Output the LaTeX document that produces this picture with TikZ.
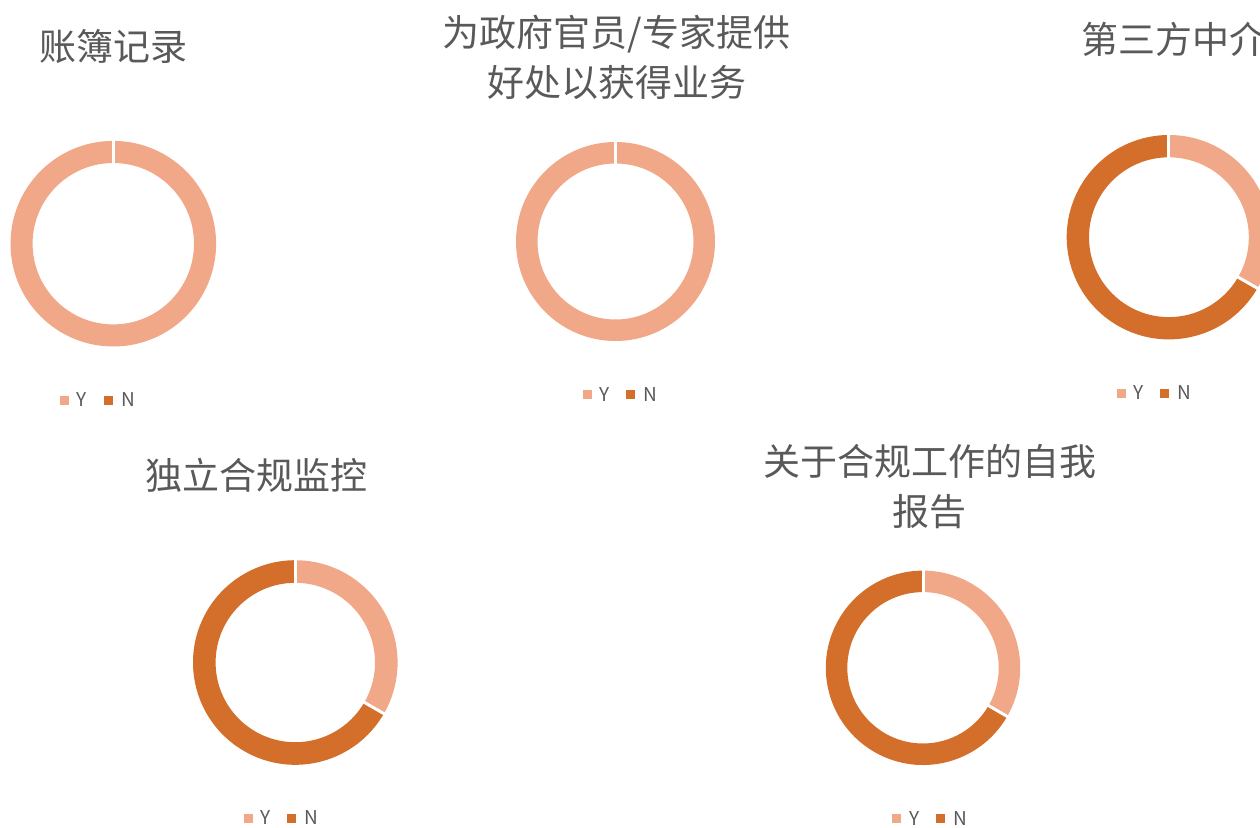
\documentclass[tikz,border=0pt]{standalone}
\usepackage{fontspec}
\setmainfont{Noto Sans CJK SC}
\usetikzlibrary{calc}
\definecolor{ycol}{RGB}{241,168,137}
\definecolor{ncol}{RGB}{211,111,43}
\definecolor{txtgray}{RGB}{89,89,89}
\newcommand\ringseg[7]{\fill[#1] ([shift={(#6:#4)}]#2,#3) arc[start angle=#6,end angle=#7,radius=#4] -- ([shift={(#7:#5)}]#2,#3) arc[start angle=#7,end angle=#6,radius=#5] -- cycle;}
\newcommand\ringgap[5]{\draw[gapline] ([shift={(#5:#4-3)}]#1,#2) -- ([shift={(#5:#3+3)}]#1,#2);}
\newcommand\legendpair[3]{%
  \node[legsq,fill=ycol] (#1ysq) at (#2,#3) {};
  \node[legtxt] (#1ytx) at (#2+17.5,#3) {Y};
  \node[legsq,fill=ncol] (#1nsq) at (#2+43.5,#3) {};
  \node[legtxt] (#1ntx) at (#2+63.5,#3) {N};}
\tikzset{
  gapline/.style={white,line width=3pt},
  legsq/.style={inner sep=0pt,minimum size=9pt,draw=none},
  legtxt/.style={inner sep=0pt,text=txtgray,font=\fontsize{19}{22}\selectfont},
  titletxt/.style={inner sep=0pt,text=txtgray,align=center,font=\fontsize{37}{50}\selectfont}
}
\begin{document}
\begin{tikzpicture}[x=1pt,y=1pt]
\useasboundingbox (0,0) rectangle (1260,-827);
% chart 1
\fill[ycol,even odd rule] (113.3,-243.7) circle[radius=102.8] (113.3,-243.7) circle[radius=80.7];
\ringgap{113.3}{-243.7}{102.8}{80.7}{90}
\node[titletxt] (t1) at (113.5,-47) {账簿记录};
\legendpair{l1}{64.5}{-400}
% chart 2
\fill[ycol,even odd rule] (615.5,-241.5) circle[radius=99.5] (615.5,-241.5) circle[radius=78];
\ringgap{615.5}{-241.5}{99.5}{78}{90}
\node[titletxt] (t2) at (616.5,-57) {为政府官员/专家提供\\好处以获得业务};
\legendpair{l2}{587.2}{-394.5}
% chart 3
\ringseg{ycol}{1168.9}{-237.2}{102.2}{79.9}{90}{-30}
\ringseg{ncol}{1168.9}{-237.2}{102.2}{79.9}{-30}{-270}
\ringgap{1168.9}{-237.2}{102.2}{79.9}{90}
\ringgap{1168.9}{-237.2}{102.2}{79.9}{-30}
\node[titletxt,anchor=west] (t3) at (1081,-39) {第三方中介};
\legendpair{l3}{1121.3}{-393}
% chart 4
\ringseg{ycol}{295.3}{-662.5}{102.3}{79.7}{90}{-30}
\ringseg{ncol}{295.3}{-662.5}{102.3}{79.7}{-30}{-270}
\ringgap{295.3}{-662.5}{102.3}{79.7}{90}
\ringgap{295.3}{-662.5}{102.3}{79.7}{-30}
\node[titletxt] (t4) at (256.5,-475) {独立合规监控};
\legendpair{l4}{248}{-818}
% chart 5
\ringseg{ycol}{923}{-667.8}{97.2}{75.7}{90}{-30}
\ringseg{ncol}{923}{-667.8}{97.2}{75.7}{-30}{-270}
\ringgap{923}{-667.8}{97.2}{75.7}{90}
\ringgap{923}{-667.8}{97.2}{75.7}{-30}
\node[titletxt] (t5) at (929.5,-487) {关于合规工作的自我\\报告};
\legendpair{l5}{896.7}{-818.3}
\end{tikzpicture}
\end{document}
